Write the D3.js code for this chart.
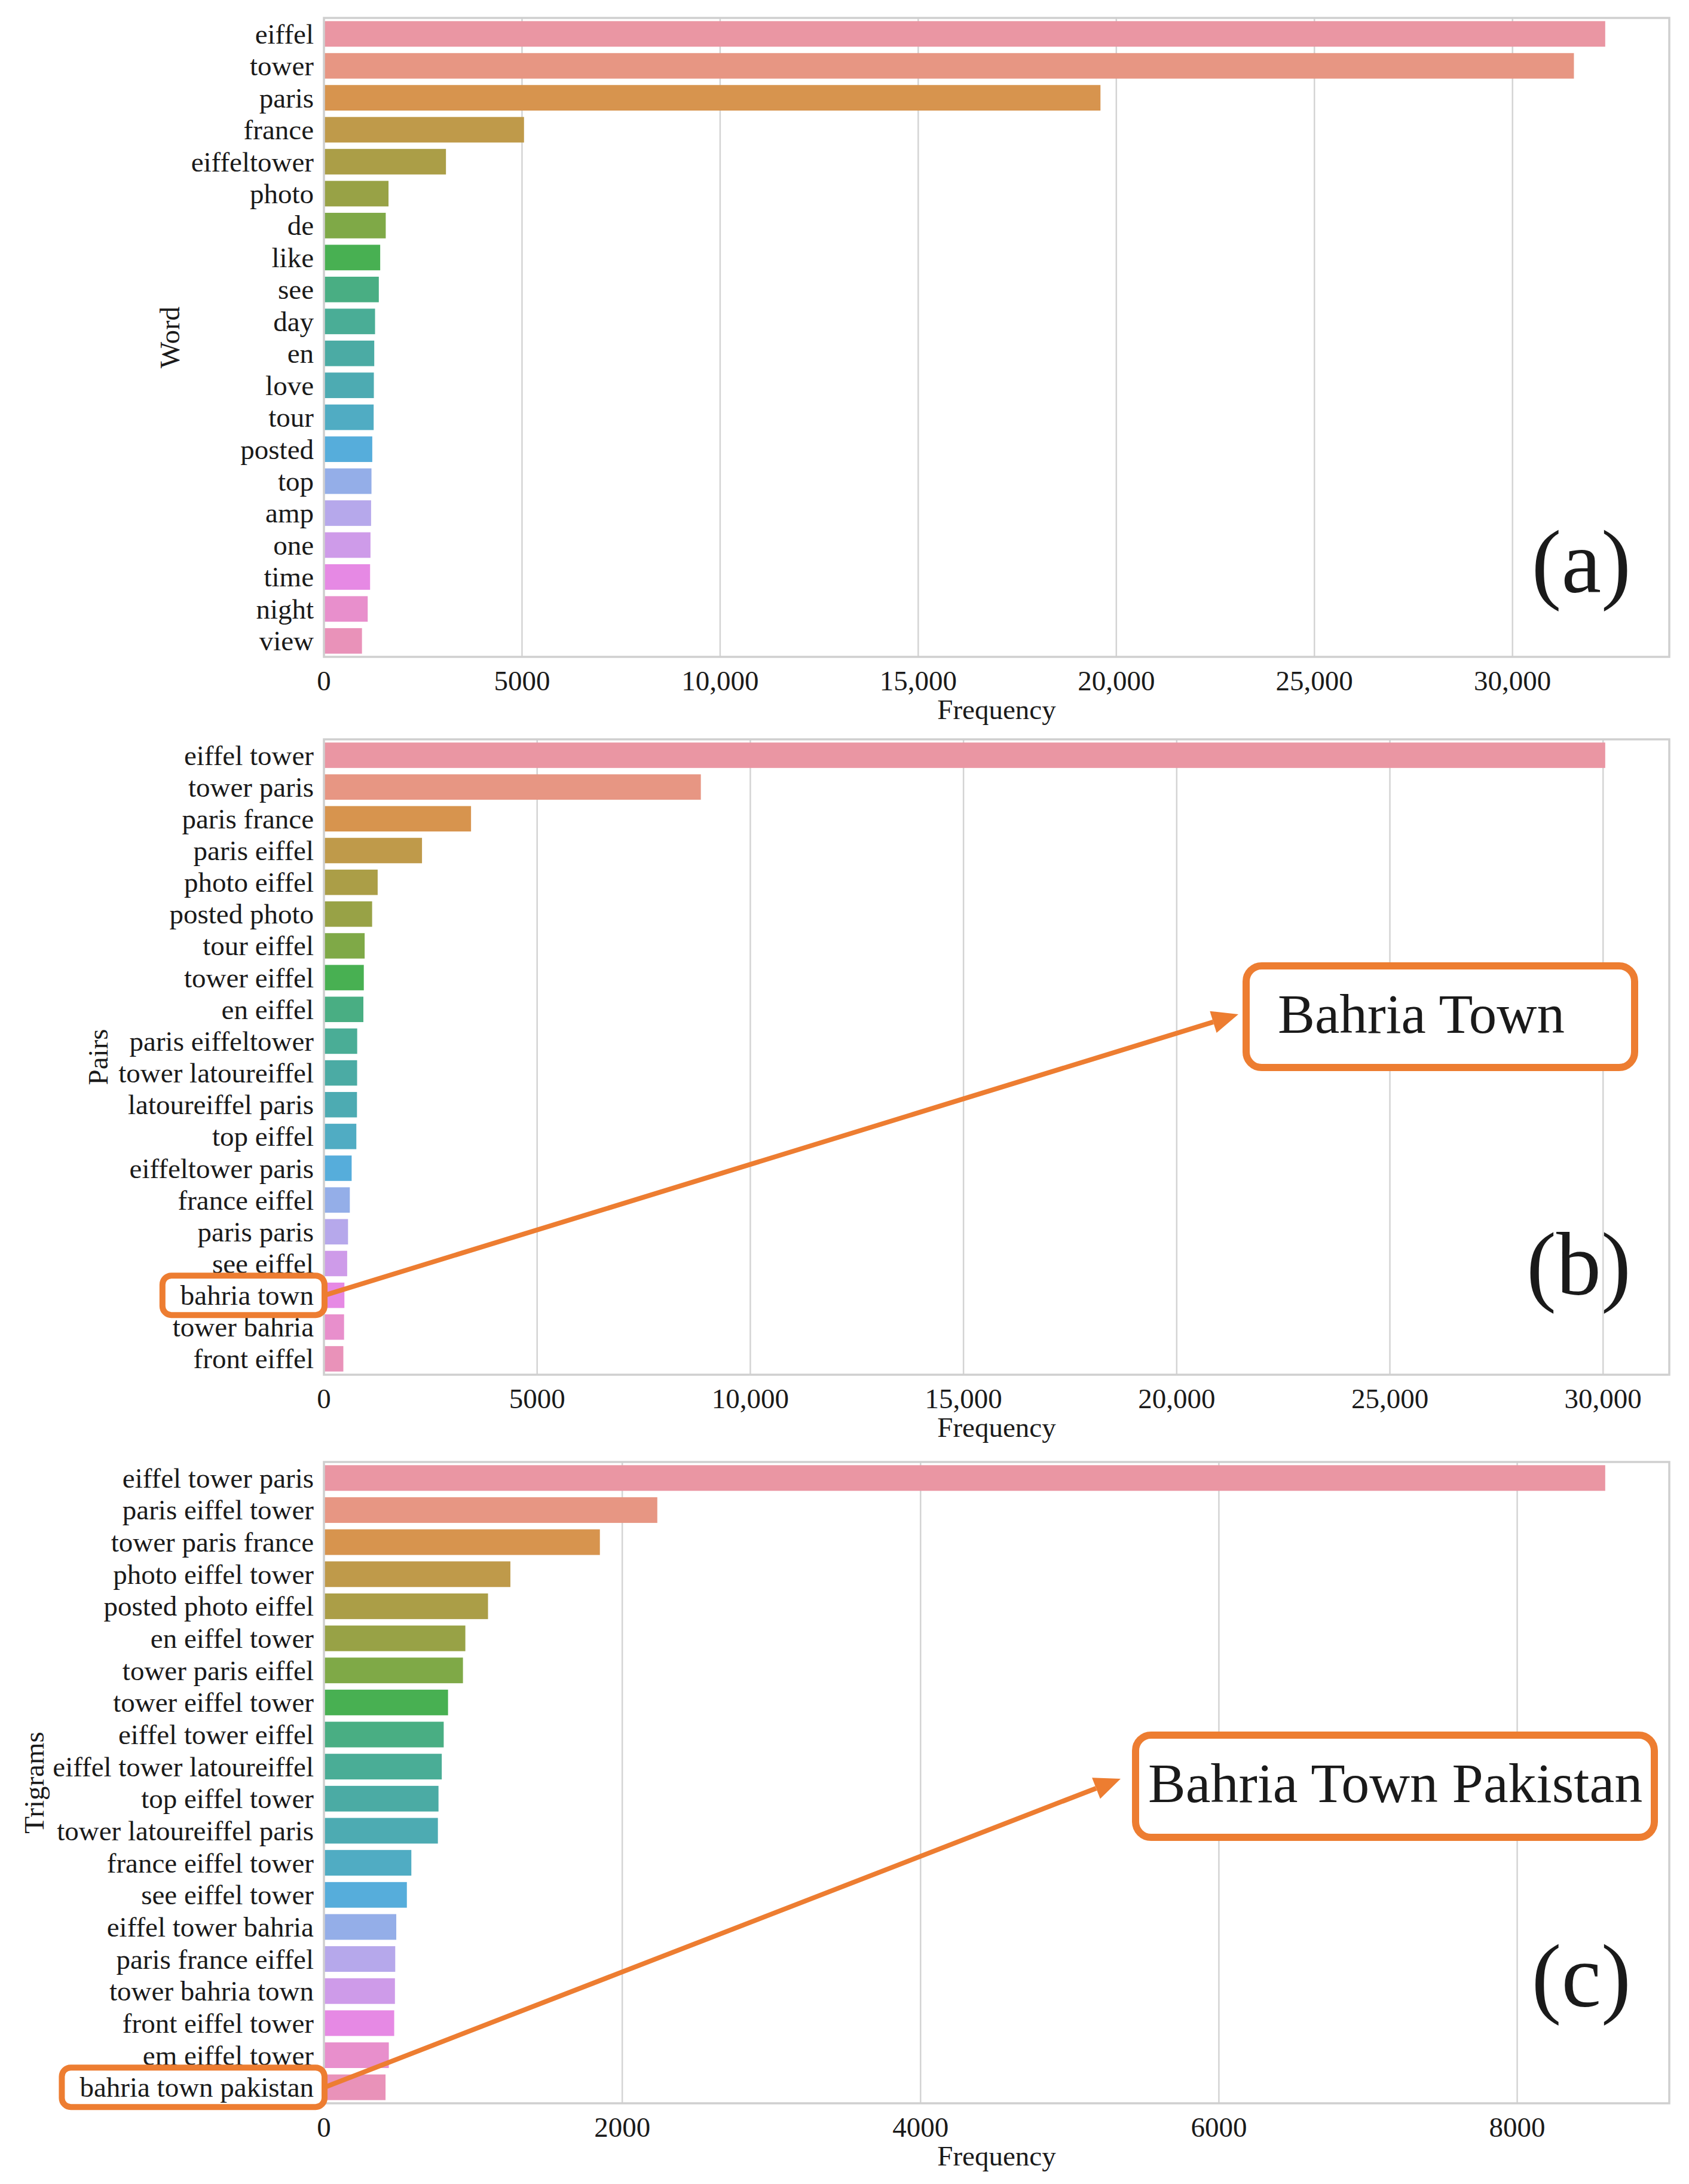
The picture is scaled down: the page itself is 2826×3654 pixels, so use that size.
<!DOCTYPE html>
<html>
<head>
<script src="https://d3js.org/d3.v7.min.js"></script>
<style>
  body { margin: 0; background: #fff; }
  text { font-family: "Liberation Serif", "Times New Roman", serif; fill: #1a1a1a; }
</style>
</head>
<body>
<script>
// ---- data ----
const words = ["eiffel","tower","paris","france","eiffeltower","photo","de","like","see","day",
               "en","love","tour","posted","top","amp","one","time","night","view"];
const wordFreq = [32340,31550,19600,5050,3080,1630,1560,1420,1385,1290,
                  1270,1260,1255,1220,1200,1190,1175,1165,1105,960];

const pairs = ["eiffel tower","tower paris","paris france","paris eiffel","photo eiffel","posted photo",
               "tour eiffel","tower eiffel","en eiffel","paris eiffeltower","tower latoureiffel",
               "latoureiffel paris","top eiffel","eiffeltower paris","france eiffel","paris paris",
               "see eiffel","bahria town","tower bahria","front eiffel"];
const pairFreq = [30050,8840,3450,2300,1260,1130,955,935,925,780,
                  778,775,760,650,607,565,545,480,472,455];

const trigrams = ["eiffel tower paris","paris eiffel tower","tower paris france","photo eiffel tower",
                  "posted photo eiffel","en eiffel tower","tower paris eiffel","tower eiffel tower",
                  "eiffel tower eiffel","eiffel tower latoureiffel","top eiffel tower",
                  "tower latoureiffel paris","france eiffel tower","see eiffel tower","eiffel tower bahria",
                  "paris france eiffel","tower bahria town","front eiffel tower","em eiffel tower",
                  "bahria town pakistan"];
const trigramFreq = [8590,2235,1850,1250,1100,948,932,832,803,790,
                     768,764,586,556,485,478,476,471,435,413];

const ticksA = [0,5000,10000,15000,20000,25000,30000];
const tickLabelsA = ["0","5000","10,000","15,000","20,000","25,000","30,000"];
const ticksB = [0,5000,10000,15000,20000,25000,30000];
const tickLabelsB = ["0","5000","10,000","15,000","20,000","25,000","30,000"];
const ticksC = [0,2000,4000,6000,8000];
const tickLabelsC = ["0","2000","4000","6000","8000"];

const W = 2826, H = 3654;
const left = 542, right = 2793;
const orange = "#ed7d31";

// seaborn-style husl palette (l=.7) desaturated to .75
const M = [[3.240969941904521,-1.537383177570093,-0.498610760293],
           [-0.96924363628087,1.87596750150772,0.041555057407175],
           [0.055630079696993,-0.20397695888897,1.056971514242878]];
const refU = 0.19783000664283, refV = 0.46831999493879, kappa = 903.2962962, eps = 0.0088564516;
function maxChroma(L, Hd) {
  const hr = Hd * Math.PI / 180, sinH = Math.sin(hr), cosH = Math.cos(hr);
  const sub1 = Math.pow(L + 16, 3) / 1560896, sub2 = sub1 > eps ? sub1 : L / kappa;
  let res = Infinity;
  for (const [m1, m2, m3] of M) {
    const top = (0.99915 * m1 + 1.05122 * m2 + 1.14460 * m3) * sub2;
    const rb = 0.86330 * m3 - 0.17266 * m2, lb = 0.12949 * m3 - 0.38848 * m1;
    const bottom = (rb * sinH + lb * cosH) * sub2;
    for (const t of [0, 1]) {
      const C = L * (top - 1.05122 * t) / (bottom + 0.17266 * sinH * t);
      if (C > 0 && C < res) res = C;
    }
  }
  return res;
}
function huslToRgb(Hd, S, L) {
  const C = maxChroma(L, Hd) / 100 * S;
  const hr = Hd * Math.PI / 180, U = Math.cos(hr) * C, V = Math.sin(hr) * C;
  const Y = L > 8 ? Math.pow((L + 16) / 116, 3) : L / kappa;
  const vU = U / (13 * L) + refU, vV = V / (13 * L) + refV;
  const X = -(9 * Y * vU) / ((vU - 4) * vV - vU * vV);
  const Z = (9 * Y - 15 * vV * Y - vV * X) / (3 * vV);
  return M.map(r => {
    const c = r[0] * X + r[1] * Y + r[2] * Z;
    const v = c <= 0.0031308 ? 12.92 * c : 1.055 * Math.pow(c, 1 / 2.4) - 0.055;
    return Math.min(1, Math.max(0, v));
  });
}
function palette(n) {
  return d3.range(n).map(i => {
    const h = ((i / n + 0.01) % 1) * 359;
    const [r, g, b] = huslToRgb(h, 0.9 * 99, 0.7 * 99);
    const c = d3.hsl(d3.rgb(r * 255, g * 255, b * 255));
    c.s *= 0.75;
    return c.formatHex();
  });
}

const panels = [
  { cats: words, vals: wordFreq, ticks: ticksA, tickLabels: tickLabelsA, ylabel: "Word",
    top: 30, bottom: 1099, ylabelX: 300, tag: "(a)", tagY: 991 },
  { cats: pairs, vals: pairFreq, ticks: ticksB, tickLabels: tickLabelsB, ylabel: "Pairs",
    top: 1237, bottom: 2300, ylabelX: 180, tag: "(b)", tagY: 2166 },
  { cats: trigrams, vals: trigramFreq, ticks: ticksC, tickLabels: tickLabelsC, ylabel: "Trigrams",
    top: 2446, bottom: 3519, ylabelX: 73, tag: "(c)", tagY: 3357 }
];

const svg = d3.select("body").append("svg")
  .attr("width", W).attr("height", H)
  .attr("viewBox", `0 0 ${W} ${H}`);

panels.forEach(p => {
  const x = d3.scaleLinear().domain([0, d3.max(p.vals) * 1.05]).range([left, right]);
  const y = d3.scaleBand().domain(p.cats).range([p.top, p.bottom]).paddingInner(0.2).paddingOuter(0.1);
  const colors = palette(p.cats.length);
  p.x = x; p.y = y;

  const g = svg.append("g");

  // grid
  g.selectAll("line.grid").data(p.ticks).join("line")
    .attr("x1", d => x(d)).attr("x2", d => x(d))
    .attr("y1", p.top).attr("y2", p.bottom)
    .attr("stroke", "#d4d4d4").attr("stroke-width", 2.5);

  // bars
  g.selectAll("rect.bar").data(p.cats).join("rect")
    .attr("x", x(0))
    .attr("y", d => y(d))
    .attr("width", (d, i) => x(p.vals[i]) - x(0))
    .attr("height", y.bandwidth())
    .attr("fill", (d, i) => colors[i]);

  // frame
  g.append("rect")
    .attr("x", left).attr("y", p.top)
    .attr("width", right - left).attr("height", p.bottom - p.top)
    .attr("fill", "none").attr("stroke", "#cfcfcf").attr("stroke-width", 3.5);

  // y tick labels
  g.selectAll("text.ylab").data(p.cats).join("text")
    .attr("class", "ylab")
    .attr("x", left - 17)
    .attr("y", d => y(d) + y.bandwidth() / 2)
    .attr("dy", "0.34em")
    .attr("text-anchor", "end")
    .attr("font-size", 47)
    .text(d => d);

  // x tick labels
  g.selectAll("text.xlab").data(p.ticks).join("text")
    .attr("x", d => x(d))
    .attr("y", p.bottom + 56)
    .attr("text-anchor", "middle")
    .attr("font-size", 47)
    .text((d, i) => p.tickLabels[i]);

  g.append("text")
    .attr("x", (left + right) / 2).attr("y", p.bottom + 104)
    .attr("text-anchor", "middle").attr("font-size", 47)
    .text("Frequency");

  g.append("text")
    .attr("transform", `translate(${p.ylabelX},${(p.top + p.bottom) / 2}) rotate(-90)`)
    .attr("text-anchor", "middle").attr("font-size", 47)
    .text(p.ylabel);

  g.append("text")
    .attr("x", 2729).attr("y", p.tagY)
    .attr("text-anchor", "end").attr("font-size", 150)
    .text(p.tag);
});

// ---- callouts ----
const callouts = [
  { panel: 1, cat: "bahria town", label: "Bahria Town",
    box: [2085, 1616, 650, 170], tip: [2072, 1697], textX: 2138, textY: 1728, size: 93 },
  { panel: 2, cat: "bahria town pakistan", label: "Bahria Town Pakistan",
    box: [1900, 2903, 868, 171], tip: [1875, 2976], textX: 1921, textY: 3015, size: 94 }
];

callouts.forEach(c => {
  const p = panels[c.panel];
  const cy = p.y(c.cat) + p.y.bandwidth() / 2;
  const lab = svg.selectAll("text.ylab").filter(d => d === c.cat).node();
  const bb = lab.getBBox();
  const bx0 = bb.x - 30, bx1 = left + 1;
  svg.append("rect")
    .attr("x", bx0).attr("y", cy - 33)
    .attr("width", bx1 - bx0).attr("height", 66)
    .attr("rx", 15)
    .attr("fill", "none").attr("stroke", orange).attr("stroke-width", 10);

  // arrow
  const x0 = bx1, y0 = cy, [x1, y1] = c.tip;
  const ang = Math.atan2(y1 - y0, x1 - x0);
  const hl = 44, hw = 19;
  const bxh = x1 - hl * Math.cos(ang), byh = y1 - hl * Math.sin(ang);
  svg.append("line")
    .attr("x1", x0).attr("y1", y0).attr("x2", bxh).attr("y2", byh)
    .attr("stroke", orange).attr("stroke-width", 8);
  svg.append("path")
    .attr("d", `M${x1},${y1}L${bxh + hw * Math.sin(ang)},${byh - hw * Math.cos(ang)}L${bxh - hw * Math.sin(ang)},${byh + hw * Math.cos(ang)}Z`)
    .attr("fill", orange);

  const [rx, ry, rw, rh] = c.box;
  svg.append("rect")
    .attr("x", rx).attr("y", ry).attr("width", rw).attr("height", rh)
    .attr("rx", 26).attr("fill", "#fff")
    .attr("stroke", orange).attr("stroke-width", 12);
  svg.append("text")
    .attr("x", c.textX).attr("y", c.textY)
    .attr("font-size", c.size).attr("fill", "#111")
    .text(c.label);
});
</script>
</body>
</html>
